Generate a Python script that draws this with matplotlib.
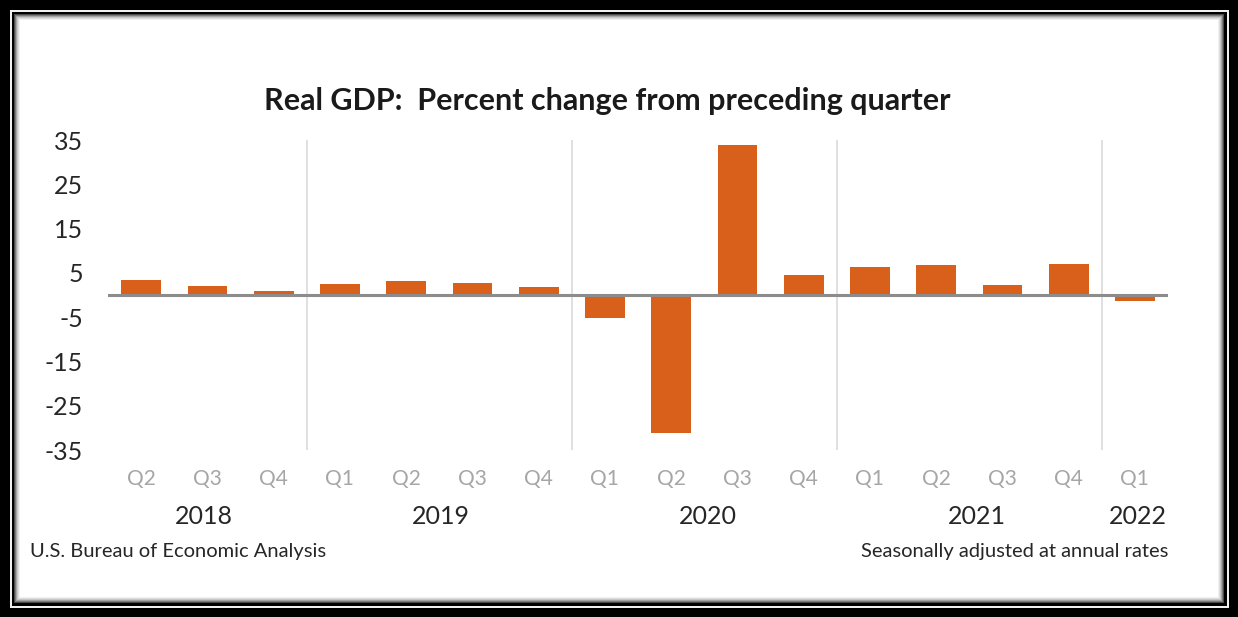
import matplotlib
matplotlib.use("Agg")
import matplotlib.pyplot as plt
from matplotlib.patches import Rectangle
from matplotlib.transforms import blended_transform_factory

plt.rcParams["font.family"] = ["Lato", "DejaVu Sans"]

# quarters shown on the axis, one bar each
quarters = ["Q2", "Q3", "Q4", "Q1", "Q2", "Q3", "Q4", "Q1", "Q2", "Q3", "Q4",
            "Q1", "Q2", "Q3", "Q4", "Q1"]
gdp_change = [3.5, 2.0, 0.9, 2.4, 3.2, 2.8, 1.9, -5.1, -31.2, 33.8, 4.5,
              6.3, 6.7, 2.3, 6.9, -1.4]
years = ["2018", "2019", "2020", "2021", "2022"]
year_label_pos = [0.95, 4.53, 8.56, 12.62, 15.05]
year_breaks = [2.5, 6.5, 10.5, 14.5]
y_ticks = [35, 25, 15, 5, -5, -15, -25, -35]

W, H = 1238, 617
BAR_COLOR = "#d8601a"

fig = plt.figure(figsize=(W / 100, H / 100), dpi=100)
fig.patch.set_facecolor("black")

# frame drawn in pixel space on a background axes
bg = fig.add_axes([0, 0, 1, 1], zorder=-1)
bg.set_xlim(0, W)
bg.set_ylim(H, 0)
bg.axis("off")


def frame_rect(inset, color):
    bg.add_patch(Rectangle((inset, inset), W - 2 * inset, H - 2 * inset,
                           facecolor=color, edgecolor="none"))


frame_rect(9.5, "#f0f0f0")
frame_rect(11.5, "black")
shadow = ["#4a4a4a", "#7a7a7a", "#a4a4a4", "#c6c6c6", "#dedede", "#f0f0f0", "white"]
for i, c in enumerate(shadow):
    frame_rect(14 + i, c)

# chart area in pixels: x 108..1168, y 140..450
left, right, top, bottom = 108, 1168, 140, 450
ax = fig.add_axes([left / W, 1 - bottom / H, (right - left) / W, (bottom - top) / H])
ax.set_facecolor("none")

x = list(range(len(gdp_change)))
ax.bar(x, gdp_change, width=0.6, color=BAR_COLOR, zorder=3)
ax.axhline(0, color="#8c8c8c", lw=2.2, zorder=4)
for xb in year_breaks:
    ax.axvline(xb, color="#dadada", lw=1.2, zorder=1)

ax.set_xlim(-0.5, len(gdp_change) - 0.5)
ax.set_ylim(-35, 35)
ax.set_yticks(y_ticks)
ax.set_yticklabels([str(v) for v in y_ticks], fontsize=18, color="#262626")
ax.set_xticks(x)
ax.set_xticklabels(quarters, fontsize=15, color="#a6a6a6")
ax.tick_params(axis="y", length=0, pad=18)
ax.tick_params(axis="x", length=0, pad=14)
for s in ax.spines.values():
    s.set_visible(False)

trans = blended_transform_factory(ax.transData, ax.transAxes)
for pos, yr in zip(year_label_pos, years):
    ax.text(pos, (bottom - 517) / (bottom - top), yr, transform=trans,
            ha="center", va="center", fontsize=18, color="#262626")

fig.text(607 / W, 1 - 101 / H, "Real GDP:  Percent change from preceding quarter",
         ha="center", va="center", fontsize=22, fontweight="bold", color="#1a1a1a")
fig.text(30 / W, 1 - 551 / H, "U.S. Bureau of Economic Analysis",
         ha="left", va="center", fontsize=14.5, color="#262626")
fig.text(1168 / W, 1 - 551 / H, "Seasonally adjusted at annual rates",
         ha="right", va="center", fontsize=14.5, color="#262626")

fig.savefig("out.png", dpi=100, facecolor=fig.get_facecolor())
